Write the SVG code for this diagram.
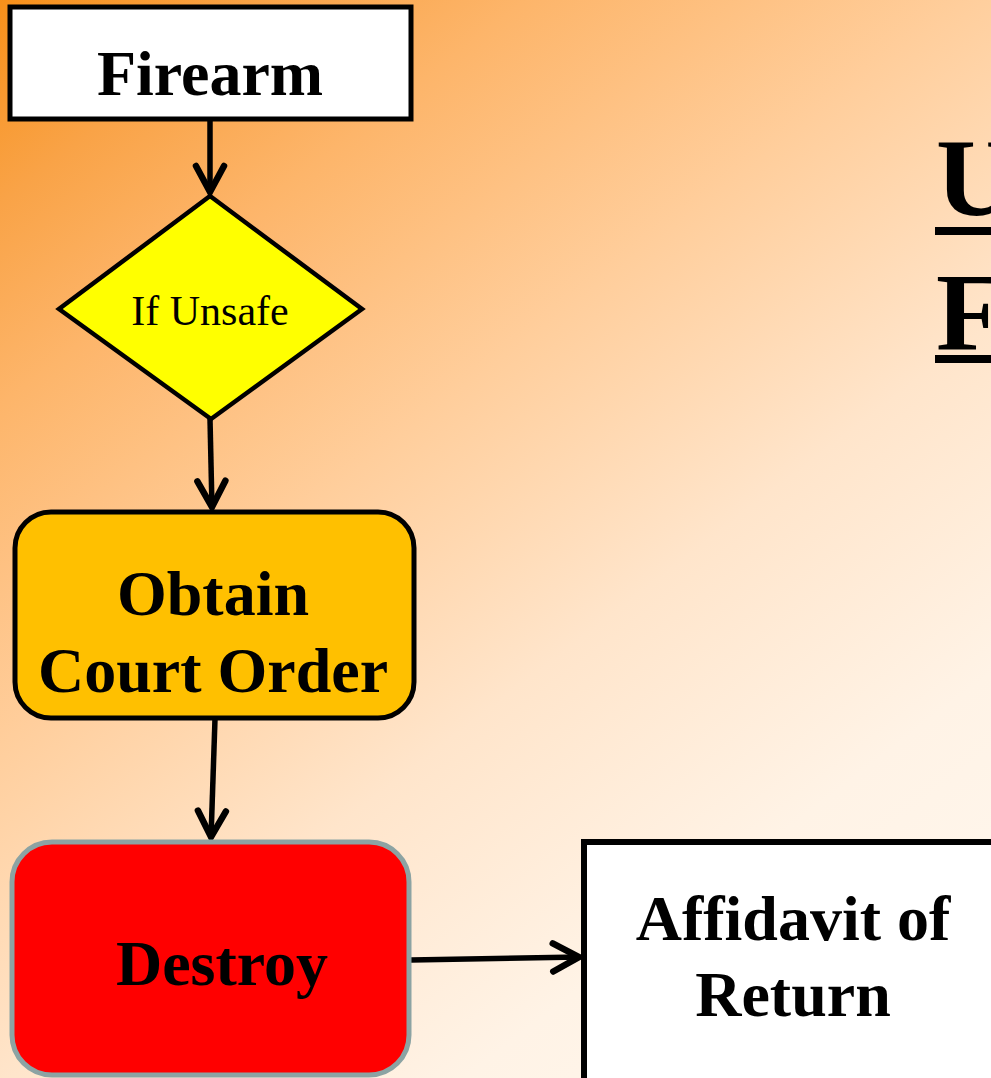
<svg xmlns="http://www.w3.org/2000/svg" width="991" height="1078" viewBox="0 0 991 1078">
  <defs>
    <linearGradient id="bg" gradientUnits="userSpaceOnUse" x1="0" y1="0" x2="889" y2="1156">
      <stop offset="0" stop-color="#F7901A"/>
      <stop offset="0.11" stop-color="#F9A347"/>
      <stop offset="0.22" stop-color="#FDB56A"/>
      <stop offset="0.405" stop-color="#FFCE9C"/>
      <stop offset="0.59" stop-color="#FFE5CB"/>
      <stop offset="0.78" stop-color="#FFF3E6"/>
      <stop offset="1" stop-color="#FFF8F0"/>
    </linearGradient>
    <marker id="arrow" markerUnits="userSpaceOnUse" markerWidth="40" markerHeight="40" viewBox="-34 -20 40 40" refX="0" refY="0" orient="auto">
      <path d="M-27,-14 L-1,0 L-27,14" fill="none" stroke="#000" stroke-width="6.5" stroke-linecap="round" stroke-linejoin="miter"/>
    </marker>
    <style>
      .label { font-family: "Liberation Serif", "Times New Roman", serif; font-weight: bold; font-size: 64px; fill: #000; text-anchor: middle; }
      .small { font-family: "Liberation Serif", "Times New Roman", serif; font-size: 42px; fill: #000; text-anchor: middle; }
      .title { font-family: "Liberation Serif", "Times New Roman", serif; font-weight: bold; font-size: 110px; fill: #000; }
      .edge { stroke: #000; stroke-width: 5.5; fill: none; marker-end: url(#arrow); }
    </style>
  </defs>

  <rect x="0" y="0" width="991" height="1078" fill="url(#bg)"/>

  <!-- title, running off the right edge -->
  <g id="title">
    <text class="title" x="936" y="215">U</text>
    <rect x="935" y="227" width="60" height="8" fill="#000"/>
    <text class="title" x="936" y="350">F</text>
    <rect x="935" y="355" width="60" height="8" fill="#000"/>
  </g>

  <!-- connectors -->
  <g id="connectors">
    <line class="edge" x1="210" y1="119" x2="210" y2="193"/>
    <line class="edge" x1="210" y1="419" x2="212" y2="508"/>
    <line class="edge" x1="215" y1="719" x2="211" y2="838"/>
    <line class="edge" x1="411" y1="960" x2="580" y2="957"/>
  </g>

  <g id="firearm">
    <rect x="10" y="7" width="401" height="112" fill="#FFFFFF" stroke="#000" stroke-width="5"/>
    <text class="label" x="210" y="95">Firearm</text>
  </g>

  <g id="if-unsafe">
    <polygon points="210,196 362,309 211,419 59,309" fill="#FFFF00" stroke="#000" stroke-width="4.5" stroke-linejoin="miter"/>
    <text class="small" x="210" y="325">If Unsafe</text>
  </g>

  <g id="court-order">
    <rect x="15" y="512" width="399" height="206" rx="36" ry="36" fill="#FFC000" stroke="#000" stroke-width="5"/>
    <text class="label" x="213" y="615">Obtain</text>
    <text class="label" x="213" y="692">Court Order</text>
  </g>

  <g id="destroy">
    <rect x="12" y="842" width="397" height="233" rx="40" ry="40" fill="#FF0000" stroke="#8CA3A3" stroke-width="5"/>
    <text class="label" x="222" y="985">Destroy</text>
  </g>

  <g id="affidavit">
    <rect x="584" y="842" width="420" height="250" fill="#FFFFFF" stroke="#000" stroke-width="6"/>
    <text class="label" x="793" y="940">Affidavit of</text>
    <text class="label" x="793" y="1016">Return</text>
  </g>
</svg>
